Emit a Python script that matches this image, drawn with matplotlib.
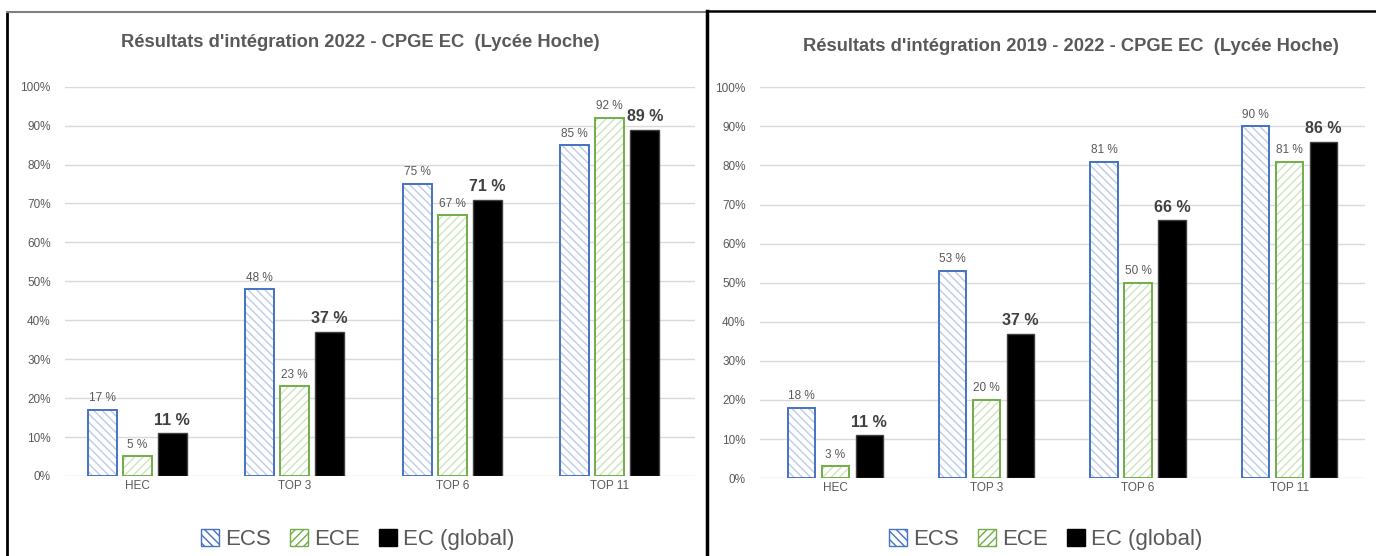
import matplotlib
matplotlib.use("Agg")
import matplotlib.pyplot as plt
import numpy as np
from matplotlib.patches import Patch
from matplotlib.lines import Line2D

plt.rcParams["font.family"] = ["Liberation Sans", "DejaVu Sans"]

categories = ["HEC", "TOP 3", "TOP 6", "TOP 11"]
series_names = ["ECS", "ECE", "EC (global)"]
yticks = [0, 10, 20, 30, 40, 50, 60, 70, 80, 90, 100]

title_2022 = "Résultats d'intégration 2022 - CPGE EC  (Lycée Hoche)"
ecs_2022 = [17, 48, 75, 85]
ece_2022 = [5, 23, 67, 92]
ec_2022 = [11, 37, 71, 89]

title_1922 = "Résultats d'intégration 2019 - 2022 - CPGE EC  (Lycée Hoche)"
ecs_1922 = [18, 53, 81, 90]
ece_1922 = [3, 20, 50, 81]
ec_1922 = [11, 37, 66, 86]

GREY = "#595959"
BLUE_EDGE, BLUE_HATCH = "#4472c4", "#bccbe8"
GREEN_EDGE, GREEN_HATCH = "#70ad47", "#cde4bd"


def hatched_bars(ax, x, vals, width, edge, hatch_col, hatch):
    # hatch colour follows edgecolor, so draw the hatch and the outline separately
    ax.bar(x, vals, width, color="white", edgecolor=hatch_col, hatch=hatch,
           linewidth=0, zorder=2)
    ax.bar(x, vals, width, fill=False, edgecolor=edge, linewidth=1.4, zorder=3)


def draw_panel(ax, ecs, ece, ec, width, step, x0):
    x = np.arange(len(categories))
    hatched_bars(ax, x - step, ecs, width, BLUE_EDGE, BLUE_HATCH, "\\\\\\\\")
    hatched_bars(ax, x, ece, width, GREEN_EDGE, GREEN_HATCH, "////")
    ax.bar(x + step, ec, width, color="black", edgecolor="#404040",
           linewidth=1, zorder=3)
    for xi, v in zip(x - step, ecs):
        ax.annotate(f"{v} %", (xi, v), xytext=(0, 4), textcoords="offset points",
                    ha="center", va="bottom", fontsize=8.5, color=GREY)
    for xi, v in zip(x, ece):
        ax.annotate(f"{v} %", (xi, v), xytext=(0, 4), textcoords="offset points",
                    ha="center", va="bottom", fontsize=8.5, color=GREY)
    for xi, v in zip(x + step, ec):
        ax.annotate(f"{v} %", (xi, v), xytext=(0, 4), textcoords="offset points",
                    ha="center", va="bottom", fontsize=11.5, fontweight="bold",
                    color="#404040")
    ax.set_xlim(x0, x0 + len(categories))
    ax.set_ylim(0, 100)
    ax.set_yticks(yticks)
    ax.set_yticklabels([f"{t}%" for t in yticks])
    ax.set_xticks(x)
    ax.set_xticklabels(categories)
    ax.tick_params(axis="y", length=0, labelsize=8.5, labelcolor=GREY, pad=10)
    ax.tick_params(axis="x", length=0, labelsize=8.5, labelcolor=GREY, pad=3)
    ax.grid(axis="y", color="#d9d9d9", linewidth=1, zorder=0)
    ax.set_axisbelow(True)
    for s in ax.spines.values():
        s.set_visible(False)


fig = plt.figure(figsize=(13.76, 5.56), dpi=100)

ax1 = fig.add_axes([0.047, 0.144, 0.458, 0.700])
draw_panel(ax1, ecs_2022, ece_2022, ec_2022, 0.185, 0.222, -0.46)
ax2 = fig.add_axes([0.552, 0.140, 0.440, 0.703])
draw_panel(ax2, ecs_1922, ece_1922, ec_1922, 0.18, 0.225, -0.5)

fig.text(0.262, 0.924, title_2022, ha="center", va="center", fontsize=13.2,
         fontweight="bold", color=GREY)
fig.text(0.778, 0.917, title_1922, ha="center", va="center", fontsize=13.2,
         fontweight="bold", color=GREY)

handles = [
    Patch(facecolor="white", edgecolor=BLUE_EDGE, hatch="\\\\\\\\", label=series_names[0]),
    Patch(facecolor="white", edgecolor=GREEN_EDGE, hatch="////", label=series_names[1]),
    Patch(facecolor="black", edgecolor="black", label=series_names[2]),
]
for cx in (0.26, 0.76):
    fig.legend(handles=handles, loc="center", bbox_to_anchor=(cx, 0.03),
               ncol=3, frameon=False, fontsize=16, labelcolor=GREY,
               handlelength=0.8, handleheight=0.8, handletextpad=0.25,
               columnspacing=0.9)

# panel frames as in the screenshot
H = 556.0
W = 1376.0
fig.add_artist(Line2D([7 / W, 7 / W], [0, 1 - 12 / H], color="black", lw=2))
fig.add_artist(Line2D([7 / W, 706 / W], [1 - 12 / H, 1 - 12 / H], color="#808080", lw=1.5))
fig.add_artist(Line2D([707 / W, 707 / W], [0, 1 - 11 / H], color="black", lw=2.5))
fig.add_artist(Line2D([707 / W, 1], [1 - 11 / H, 1 - 11 / H], color="black", lw=1.8))

fig.savefig("out.png", dpi=100)
